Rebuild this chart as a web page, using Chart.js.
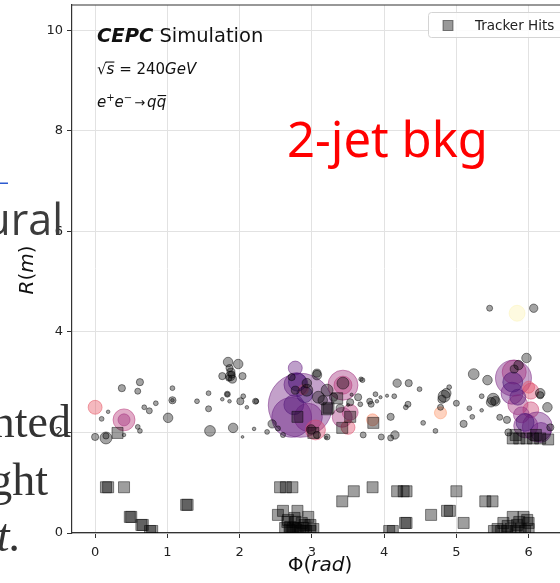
<!DOCTYPE html>
<html><head><meta charset="utf-8">
<script src="https://cdn.jsdelivr.net/npm/chart.js@4"></script>
<style>html,body{margin:0;padding:0;overflow:hidden;background:#fff;width:560px;height:583px}canvas{display:block}</style>
</head><body><canvas id="c" width="576" height="583"></canvas>
<script>
// ---- data ----
const xTicks=[0,1,2,3,4,5,6];
const yTicks=[0,2,4,6,8,10];
const legendLabel='Tracker Hits';
// tracker hits (phi, R)
const trackPhi=[0.15,0.18,0.40,1.26,1.28,0.48,0.50,0.64,0.66,0.76,0.79,0.31,
2.53,2.56,2.64,2.73,2.60,2.80,2.95,2.98,2.66,2.70,2.74,2.81,2.88,3.02,2.63,2.67,2.77,2.72,2.84,2.92,2.76,2.86,2.98,2.90,2.69,2.79,
3.42,3.58,3.84,4.18,4.27,4.31,5.00,4.65,4.87,4.91,5.10,4.29,4.31,5.40,5.50,4.07,4.12,
5.78,5.93,5.65,5.84,5.57,5.75,5.89,6.00,5.98,5.70,5.62,5.82,5.95,5.87,6.00,5.71,5.52,
5.78,5.87,5.97,6.06,6.16,6.27,5.82,6.10,
2.80,3.02,3.35,3.23,3.42,3.85,3.53,3.21];
const trackR=[0.91,0.91,0.91,0.56,0.56,0.32,0.32,0.16,0.16,0.04,0.04,1.99,
0.36,0.91,0.91,0.91,0.44,0.44,0.32,0.16,0.22,0.12,0.10,0.10,0.10,0.08,0.10,0.26,0.22,0.04,0.04,0.04,0.30,0.20,0.04,0.16,0.06,0.06,
0.63,0.83,0.91,0.83,0.83,0.83,0.83,0.36,0.44,0.44,0.20,0.20,0.20,0.63,0.63,0.04,0.04,
0.32,0.32,0.20,0.16,0.08,0.08,0.08,0.08,0.26,0.04,0.04,0.04,0.04,0.22,0.20,0.14,0.04,
1.88,1.88,1.88,1.88,1.88,1.86,1.95,1.95,
2.31,1.99,2.68,2.49,2.09,2.19,2.31,2.46];
// calorimeter hits (phi, R, energy)
const hitPhi=[0.37,0.62,0.59,1.07,1.07,1.07,0.84,0.68,0.75,1.01,0.59,0.62,0.18,0.09,0.00,0.15,0.15,0.40,
1.41,1.57,1.57,1.59,1.76,1.83,1.83,1.86,1.91,2.01,2.05,2.10,2.23,2.20,2.04,2.38,
1.84,1.98,1.76,2.04,1.88,1.87,1.90,1.86,1.89,1.85,
2.22,2.45,2.53,2.60,3.07,3.07,3.43,3.70,3.88,3.80,3.64,3.67,3.82,3.68,
2.93,3.09,3.21,3.15,3.39,3.53,3.30,2.93,2.72,2.77,2.99,3.07,3.21,3.71,3.96,4.09,4.15,4.09,
4.18,4.34,4.49,4.14,4.33,4.30,
4.83,4.86,4.80,4.90,5.00,4.54,4.71,5.10,5.18,5.22,4.78,
5.24,5.35,5.43,5.48,5.35,5.46,6.07,5.97,5.86,6.16,5.51,5.54,6.26,6.16,5.80,5.70,5.72,5.60,6.30,
3.20,3.50,3.55,3.90,3.95,4.04];
const hitR=[2.88,3.00,2.82,2.88,2.64,2.64,2.58,2.50,2.43,2.29,2.11,2.03,2.41,2.27,1.91,1.89,1.93,1.95,
2.62,2.78,2.47,2.03,2.66,2.76,2.76,2.62,2.09,2.62,2.72,2.50,2.62,2.07,1.91,2.01,
3.40,3.36,3.12,3.12,3.20,3.12,3.06,3.28,3.15,3.08,
2.62,2.17,2.08,1.95,3.14,3.18,2.98,3.04,2.76,2.62,2.70,2.56,2.56,3.06,
2.84,2.70,2.84,2.64,2.48,2.60,2.70,2.98,3.10,2.84,2.06,1.95,1.91,1.95,1.91,1.89,1.95,2.31,
2.98,2.98,2.86,2.72,2.56,2.50,
2.72,2.78,2.66,2.90,2.58,2.19,2.03,2.17,2.48,2.31,2.50,
3.16,2.72,3.04,2.60,2.44,4.47,4.47,3.48,3.34,2.78,2.66,2.62,2.50,2.74,3.26,2.25,2.00,2.30,2.10,
1.90,2.55,2.75,2.62,2.70,2.73];
const hitE=[4,4,2.8,1.8,4,1,1.8,1.8,2.8,7,1.8,1.8,1,1.8,4,11,3,1,
1.8,1.8,2.8,9,1,2.8,1.5,1,7,4,1.8,1,1.8,1,0.6,1.8,
7,7,4,4,5,7,5,4,4,3,
2.8,5.4,2,2,7,5,11,1.8,1.8,2.8,4,1.8,2.8,1.5,
11,11,11,7,5,4,5,7,4,5,7,4,2.8,2.8,2.8,2.8,5.4,4,
5.4,4,1.8,1.8,2.8,1.8,
11,7,5,1.8,2.8,1.8,1.8,4,1.8,1.8,2.8,
9,1.8,7,7,1,2.8,5.4,7,7,7,11,7,7,4,5,4,4,2.8,4,
0.6,0.8,0.8,1,0.8,0.8];
// reconstructed clusters (phi, R, energy, colour value)
const cluPhi=[2.84,2.77,2.78,2.72,2.95,3.43,3.43,3.53,3.42,3.84,3.05,2.88,3.50,0.00,0.40,0.40,
5.79,5.80,5.77,5.85,6.03,6.03,6.12,5.96,6.17,6.00,5.90,5.84,4.78,
2.80,2.90,2.75,5.78,5.85,5.95];
const cluR=[2.54,3.28,2.95,2.30,2.30,2.94,2.94,2.40,2.30,2.25,2.05,2.85,2.10,2.50,2.25,2.25,
3.08,3.20,2.78,2.55,2.82,2.45,2.11,2.13,2.00,2.90,2.35,4.37,2.39,
3.00,2.75,2.55,3.00,2.70,2.20];
const cluE=[114,5.4,16,44,22,25,9,7,11,4,11,2.8,5.4,5.4,13.4,4,
36,16,13.4,11,7,7,25,16,11,4,7,7,4,
9,7,11,11,7,9];
const cluC=[0.33,0.30,0.28,0.30,0.33,0.45,0.50,0.50,0.45,0.75,0.58,0.70,0.60,0.63,0.50,0.45,
0.35,0.45,0.32,0.45,0.58,0.55,0.33,0.35,0.30,0.62,0.40,0.98,0.78,
0.22,0.20,0.25,0.22,0.25,0.22];

// ---- helpers ----
const MAGMA=[[0,0,4],[20,14,54],[59,15,112],[100,26,128],[140,41,129],[183,55,121],[222,73,104],[247,112,92],[254,159,109],[254,207,146],[252,253,191]];
function magma(t,a){t=Math.max(0,Math.min(1,t))*10;const i=Math.min(9,Math.floor(t)),f=t-i;const c=MAGMA[i].map((v,k)=>Math.round(v+(MAGMA[i+1][k]-v)*f));return 'rgba('+c.join(',')+','+a+')';}
const pts=(P,R)=>P.map((p,i)=>({x:p,y:R[i]}));
const SANS='"DejaVu Sans"';
function runs(ctx,x,y,list){for(const r of list){ctx.font=r.f;ctx.fillText(r.t,x,y+(r.dy||0));const w=ctx.measureText(r.t).width;if(r.bar!==undefined){ctx.fillRect(x+(r.bx||0),y+r.bar,w+(r.bw||0),1.1);}x+=w+(r.sp||0);}return x;}

const overlay={id:'overlay',afterDraw(chart){
  const ctx=chart.ctx,a=chart.chartArea;
  ctx.save();
  ctx.strokeStyle='#333';ctx.lineWidth=1.2;
  ctx.beginPath();ctx.moveTo(a.left,a.top);ctx.lineTo(a.right,a.top);ctx.lineTo(a.right,a.bottom);ctx.stroke();
  // legend
  ctx.fillStyle='rgba(255,255,255,0.85)';ctx.strokeStyle='#d4d4d4';ctx.lineWidth=1;
  ctx.beginPath();ctx.roundRect(428.5,12.5,150,25,3);ctx.fill();ctx.stroke();
  ctx.fillStyle='rgba(0,0,0,0.4)';ctx.strokeStyle='rgba(0,0,0,0.45)';
  ctx.fillRect(443,20.5,10,10);ctx.strokeRect(443,20.5,10,10);
  ctx.fillStyle='#222';ctx.font='13.5px '+SANS;ctx.textBaseline='alphabetic';ctx.textAlign='left';
  ctx.fillText(legendLabel,475,29.5);
  // CEPC label
  ctx.fillStyle='#111';
  runs(ctx,97,42,[{t:'CEPC',f:'italic bold 19.5px '+SANS,sp:0},{t:' Simulation',f:'19.5px '+SANS}]);
  runs(ctx,97,74,[{t:'\u221A',f:'15px '+SANS},{t:'s',f:'italic 15px '+SANS,bar:-12.5,bx:-1,bw:1},{t:' = 240',f:'15px '+SANS},{t:'GeV',f:'italic 15px '+SANS}]);
  runs(ctx,97,107,[{t:'e',f:'italic 15px '+SANS},{t:'+',f:'10px '+SANS,dy:-6},{t:'e',f:'italic 15px '+SANS},{t:'\u2212',f:'10px '+SANS,dy:-6,sp:2},{t:'\u2192',f:'13px '+SANS,sp:2},{t:'q',f:'italic 15px '+SANS},{t:'q',f:'italic 15px '+SANS,bar:-12,bx:1,bw:-1}]);
  // axis titles
  ctx.fillStyle='#111';ctx.textAlign='left';
  ctx.font='20px '+SANS;
  let wPhi=ctx.measureText('\u03A6(').width;ctx.font='italic 20px '+SANS;let wRad=ctx.measureText('rad').width;ctx.font='20px '+SANS;let wP=ctx.measureText(')').width;
  let tot=wPhi+wRad+wP;
  runs(ctx,320-tot/2,571,[{t:'\u03A6(',f:'20px '+SANS},{t:'rad',f:'italic 20px '+SANS},{t:')',f:'20px '+SANS}]);
  ctx.save();ctx.translate(33,270);ctx.rotate(-Math.PI/2);
  ctx.font='italic 20px '+SANS;let w1=ctx.measureText('R').width,w3=ctx.measureText('m').width;ctx.font='20px '+SANS;let w2=ctx.measureText('(').width;
  let tw=w1+w3+2*w2;
  runs(ctx,-tw/2,0,[{t:'R',f:'italic 20px '+SANS},{t:'(',f:'20px '+SANS},{t:'m',f:'italic 20px '+SANS},{t:')',f:'20px '+SANS}]);
  ctx.restore();
  // red annotation
  ctx.fillStyle='#ff0000';ctx.font='47px "Noto Sans"';
  let rw=ctx.measureText('2-jet bkg').width;let fs=47*201/rw;ctx.font=fs.toFixed(1)+'px "Noto Sans"';
  ctx.fillText('2-jet bkg',287,157);
  // slide text fragments on the left
  ctx.fillStyle='#3c3c3c';ctx.textAlign='right';
  ctx.font='43px "Open Sans"';ctx.fillText('ural',63,235);
  ctx.fillStyle='#333';
  ctx.font='46px "Liberation Serif"';ctx.fillText('nted',71,437);ctx.fillText('ght',48,495);
  ctx.font='italic 46px "Liberation Serif"';ctx.fillText('t.',21,551);
  ctx.fillStyle='#2d5bd0';ctx.fillRect(0,182.5,8,1.5);
  ctx.restore();
}};

const tickFont={family:'DejaVu Sans',size:13};
new Chart(document.getElementById('c'),{
  type:'scatter',
  data:{datasets:[
    {label:legendLabel,data:pts(trackPhi,trackR),pointStyle:'rect',pointRadius:7.8,backgroundColor:'rgba(0,0,0,0.38)',borderColor:'rgba(0,0,0,0.45)',borderWidth:1,clip:0},
    {label:'Calo',data:pts(hitPhi,hitR),pointStyle:'circle',pointRadius:c=>1.8*Math.sqrt(hitE[c.dataIndex]),backgroundColor:'rgba(0,0,0,0.36)',borderColor:'rgba(0,0,0,0.45)',borderWidth:1,clip:0},
    {label:'Clusters',data:pts(cluPhi,cluR),pointStyle:'circle',pointRadius:c=>3*Math.sqrt(cluE[c.dataIndex]),backgroundColor:c=>magma(cluC[c.dataIndex],0.42),borderColor:c=>magma(cluC[c.dataIndex],0.5),borderWidth:1,clip:0}
  ]},
  options:{
    responsive:false,animation:false,events:[],
    layout:{autoPadding:false,padding:{top:5,right:4,left:0,bottom:0}},
    plugins:{legend:{display:false},tooltip:{enabled:false}},
    scales:{
      x:{type:'linear',min:-0.32,max:6.6,
        afterBuildTicks:s=>{s.ticks=xTicks.map(v=>({value:v}));},
        afterFit:s=>{s.height=50;s.paddingLeft=0;s.paddingRight=0;},
        grid:{color:'#e2e2e2',lineWidth:1,tickColor:'#333',tickLength:5},
        border:{color:'#333',width:1.2},
        ticks:{font:tickFont,color:'#222',padding:7,maxRotation:0,autoSkip:false}},
      y:{type:'linear',min:0,max:10.5,
        afterBuildTicks:s=>{s.ticks=yTicks.map(v=>({value:v}));},
        afterFit:s=>{s.width=72;s.paddingTop=0;s.paddingBottom=0;},
        grid:{color:'#e2e2e2',lineWidth:1,tickColor:'#333',tickLength:5},
        border:{color:'#333',width:1.2},
        ticks:{font:tickFont,color:'#222',padding:4,autoSkip:false}}
    }
  },
  plugins:[overlay]
});
</script></body></html>
